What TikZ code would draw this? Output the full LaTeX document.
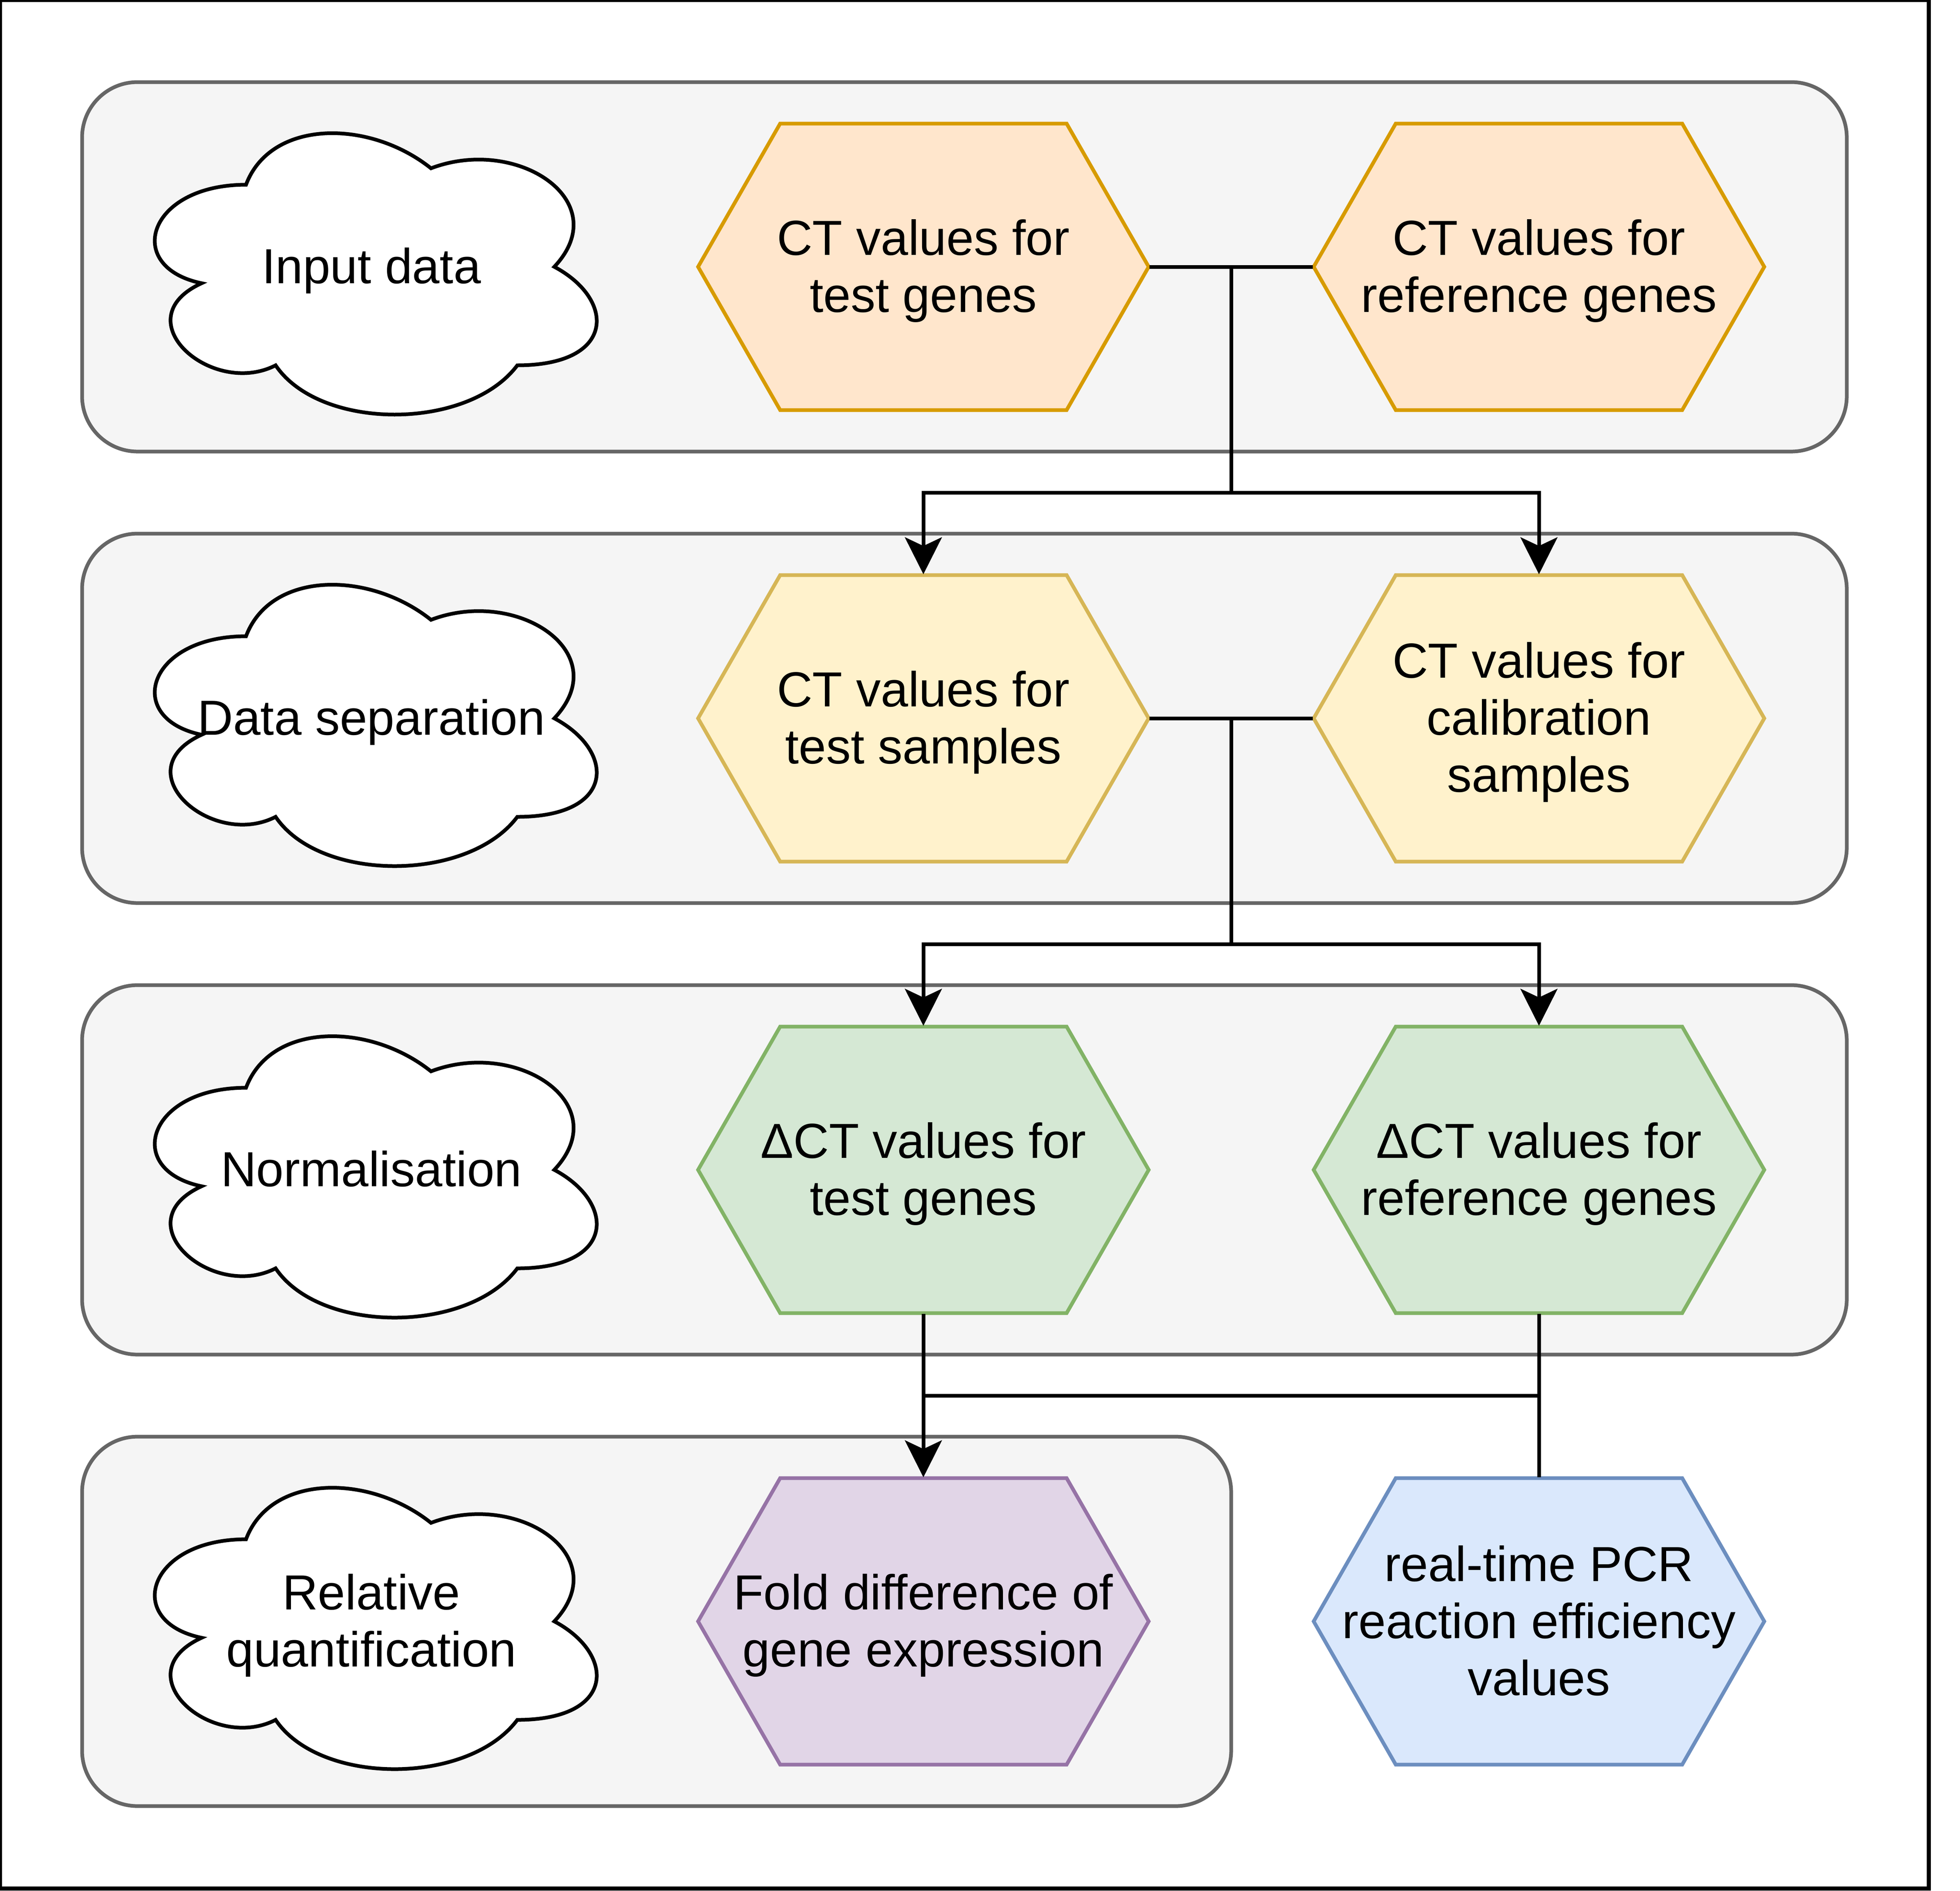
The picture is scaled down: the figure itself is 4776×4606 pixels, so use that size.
\documentclass[tikz,border=0pt]{standalone}
\usepackage{fontspec}
\setmainfont{Liberation Sans}
\usetikzlibrary{arrows.meta}
\definecolor{contfill}{HTML}{F5F5F5}
\definecolor{contdraw}{HTML}{666666}
\definecolor{orfill}{HTML}{FFE6CC}\definecolor{ordraw}{HTML}{D79B00}
\definecolor{yefill}{HTML}{FFF2CC}\definecolor{yedraw}{HTML}{D6B656}
\definecolor{grfill}{HTML}{D5E8D4}\definecolor{grdraw}{HTML}{82B366}
\definecolor{pufill}{HTML}{E1D5E7}\definecolor{pudraw}{HTML}{9673A6}
\definecolor{blfill}{HTML}{DAE8FC}\definecolor{bldraw}{HTML}{6C8EBF}
\newcommand\lst{\rule[-2.86pt]{0pt}{13.9pt}}
% hexagon: name, cx, cy, fill, stroke, text
\newcommand\hexat[6]{%
  \draw[hexline, fill=#4, draw=#5] (#2-549,#3) -- (#2-349,#3-349) -- (#2+349,#3-349)
    -- (#2+549,#3) -- (#2+349,#3+349) -- (#2-349,#3+349) -- cycle;
  \node[hexbox] (#1) at (#2,#3) {#6};
}
% cloud: name, cy, text
\newcommand\cloudat[3]{%
  \begin{scope}[shift={(299,#2-400)}]
    \begin{scope}[x=120.2pt,y=-80pt]
      \draw[cloudline] (0.25,0.25) .. controls (0.05,0.25) and (0,0.5) .. (0.16,0.55)
        .. controls (0,0.66) and (0.18,0.9) .. (0.31,0.8)
        .. controls (0.4,1) and (0.7,1) .. (0.8,0.8)
        .. controls (1,0.8) and (1,0.6) .. (0.875,0.5)
        .. controls (1,0.3) and (0.8,0.1) .. (0.625,0.2)
        .. controls (0.5,0.05) and (0.3,0.05) .. (0.25,0.25) -- cycle;
    \end{scope}
  \end{scope}
  \node[cloudtext] (#1) at (905,#2) {#3};
}
\begin{document}
\begin{tikzpicture}[x=0.1pt,y=-0.1pt,
  txt/.style={font=\fontsize{12pt}{13.9pt}\selectfont, align=center, inner sep=0pt},
  hexbox/.style={txt, minimum width=109.8pt, minimum height=69.8pt},
  cloudtext/.style={txt},
  hexline/.style={line width=0.9pt, line join=miter},
  cloudline/.style={line width=0.9pt, draw=black, fill=white},
  cont/.style={line width=0.9pt, draw=contdraw, fill=contfill, rounded corners=13.5pt},
  conn/.style={line width=0.9pt, draw=black},
  arr/.style={conn, -{Stealth[length=9pt,width=9pt,inset=2.1pt]}}]
\useasboundingbox (0,0) rectangle (4776,4606);
\fill[white] (0,0) rectangle (4776,4606);
\draw[line width=1pt] (0,0) rectangle (4700,4601);
% containers
\draw[cont] (200,200) rectangle (4500,1100);
\draw[cont] (200,1300) rectangle (4500,2200);
\draw[cont] (200,2400) rectangle (4500,3300);
\draw[cont] (200,3500) rectangle (3000,4400);
% clouds
\cloudat{c1}{650}{\lst Input data\lst}
\cloudat{c2}{1750}{\lst Data separation\lst}
\cloudat{c3}{2850}{\lst Normalisation\lst}
\cloudat{c4}{3950}{\lst Relative\lst\\\lst quantification\lst}
% hexagons
\hexat{h1l}{2250}{650}{orfill}{ordraw}{\lst CT values for\lst\\\lst test genes\lst}
\hexat{h1r}{3750}{650}{orfill}{ordraw}{\lst CT values for\lst\\\lst reference genes\lst}
\hexat{h2l}{2250}{1750}{yefill}{yedraw}{\lst CT values for\lst\\\lst test samples\lst}
\hexat{h2r}{3750}{1750}{yefill}{yedraw}{\lst CT values for\lst\\\lst calibration\lst\\\lst samples\lst}
\hexat{h3l}{2250}{2850}{grfill}{grdraw}{\lst ΔCT values for\lst\\\lst test genes\lst}
\hexat{h3r}{3750}{2850}{grfill}{grdraw}{\lst ΔCT values for\lst\\\lst reference genes\lst}
\hexat{h4l}{2250}{3950}{pufill}{pudraw}{\lst Fold difference of\lst\\\lst gene expression\lst}
\hexat{h4r}{3750}{3950}{blfill}{bldraw}{\lst real-time PCR\lst\\\lst reaction efficiency\lst\\\lst values\lst}
% junction points
\coordinate (j1) at (3000,650);
\coordinate (k1) at (3000,1200);
\coordinate (j2) at (3000,1750);
\coordinate (k2) at (3000,2300);
\coordinate (k3l) at (2250,3400);
\coordinate (k3r) at (3750,3400);
% connectors
\draw[conn] (h1l.east) -- (h1r.west);
\draw[conn] (j1) -- (k1);
\draw[arr] (k1) -| (h2l.north);
\draw[arr] (k1) -| (h2r.north);
\draw[conn] (h2l.east) -- (h2r.west);
\draw[conn] (j2) -- (k2);
\draw[arr] (k2) -| (h3l.north);
\draw[arr] (k2) -| (h3r.north);
\draw[arr] (h3l.south) -- (h4l.north);
\draw[conn] (h3r.south) -- (h4r.north);
\draw[conn] (k3l) -- (k3r);
\end{tikzpicture}
\end{document}
